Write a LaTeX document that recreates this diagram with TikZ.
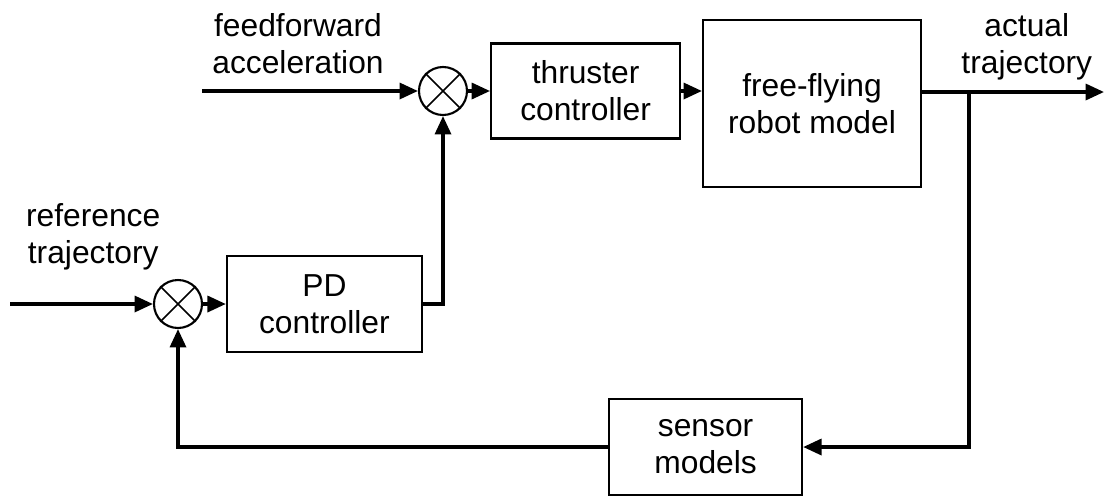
\documentclass[tikz,border=0pt]{standalone}
\usepackage{fontspec}
\setmainfont{Liberation Sans}
\usetikzlibrary{arrows.meta}

\begin{document}
\begin{tikzpicture}[every node/.style={font=\fontsize{22.6}{26.3}\selectfont,align=center,inner sep=0pt},
blk/.style={draw,line width=1.5pt,minimum height=2.4cm},
junc/.style={draw,circle,line width=1.5pt,minimum size=1.2cm},
arr/.style={-{Triangle[length=4.6mm,width=4mm]},line width=2.4pt}]
\useasboundingbox (0,0) rectangle (27.6,-12.4);
\node[anchor=north] (ffl) at (7.45,-0.33) {feedforward\\acceleration};
\node[anchor=north] (refl) at (2.33,-5.08) {reference\\trajectory};
\node[anchor=north] (outl) at (25.67,-0.33) {actual\\trajectory};
\node[junc] (j1) at (11.075,-2.275) {};
\node[junc] (j2) at (4.45,-7.6) {};
\draw[line width=1.2pt] (j1.north west)--(j1.south east) (j1.north east)--(j1.south west);
\draw[line width=1.2pt] (j2.north west)--(j2.south east) (j2.north east)--(j2.south west);
\node[blk,minimum width=4.725cm,minimum height=2.375cm] (t) at (14.64,-2.275) {thruster\\controller};
\node[blk,minimum width=5.45cm,minimum height=4.175cm] (m) at (20.3,-2.59) {free-flying\\robot model};
\node[blk,minimum width=4.875cm] (pd) at (8.11,-7.6) {PD\\controller};
\node[blk,minimum width=4.825cm] (s) at (17.64,-11.175) {sensor\\models};
\coordinate (ffin) at (5.05,-2.275);
\coordinate (refin) at (0.25,-7.6);
\coordinate (out) at (27.6,-2.3);
\coordinate (br) at (24.225,-2.3);
\draw[arr] (ffin)--(j1);\draw[arr] (j1)--(t);\draw[arr] (t.east)--(t.east -| m.west);
\draw[arr] (out -| m.east)--(out);\draw[arr] (br)|-(s);\draw[arr] (s)-|(j2);
\draw[arr] (refin)--(j2);\draw[arr] (j2)--(pd);\draw[arr] (pd)-|(j1);
\end{tikzpicture}
\end{document}
